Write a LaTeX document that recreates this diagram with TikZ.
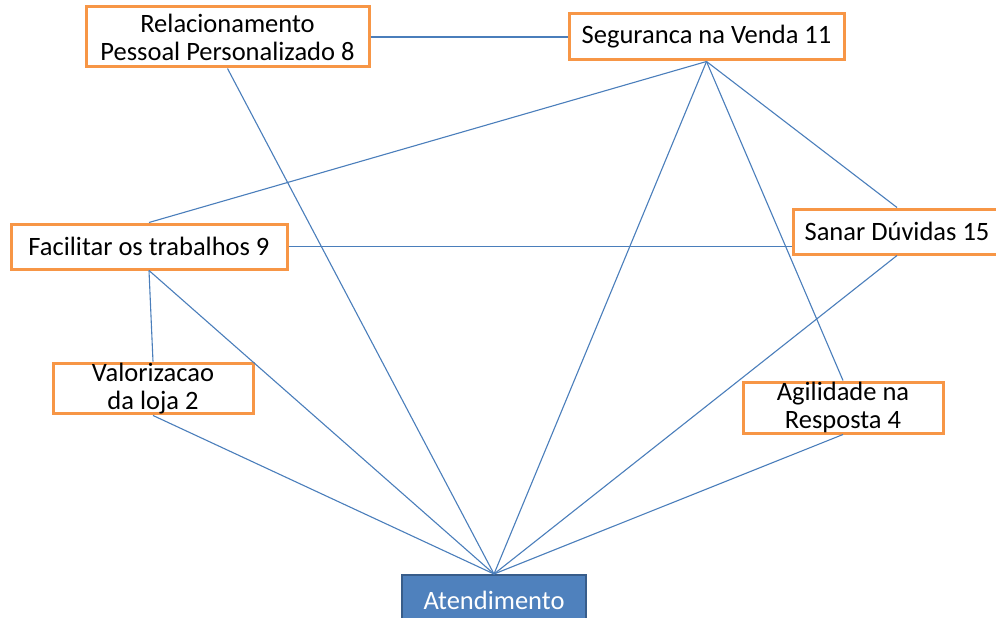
\documentclass[tikz,border=0pt]{standalone}
\usepackage{fontspec}
\setmainfont{Carlito}
\definecolor{boxorange}{HTML}{F79646}
\definecolor{linkblue}{HTML}{4A7EBB}
\definecolor{atefill}{HTML}{4F81BD}
\definecolor{ateborder}{HTML}{385D8A}
\begin{document}
\begin{tikzpicture}[x=1pt,y=-1pt,
    box/.style={draw=boxorange, line width=3pt, fill=white, inner sep=0pt,
        align=center, font=\fontsize{26.5}{28}\selectfont},
    link/.style={draw=linkblue, line width=1.1pt}]

\clip (0,0) rectangle (996,618);
\fill[white] (0,0) rectangle (996,618);

% Draw the boxes
\node[box, minimum width=283pt, minimum height=60pt] (rel) at (227.5,37) {Relacionamento\\Pessoal Personalizado 8};
\node[box, minimum width=275pt, minimum height=46pt] (seg) at (706.5,37) {Seguranca na Venda 11};
\node[box, minimum width=276pt, minimum height=45pt] (fac) at (149,246.5) {Facilitar os trabalhos 9};
\node[box, minimum width=208pt, minimum height=45pt] (san) at (897,231.5) {Sanar Dúvidas 15};
\node[box, minimum width=200pt, minimum height=45pt] (val) at (153,388.5) {Valorizacao\\da loja 2};
\node[box, minimum width=200pt, minimum height=51pt] (agi) at (843,407.5) {Agilidade na\\Resposta 4};
\node[box, draw=ateborder, line width=2pt, fill=atefill, text=white, minimum width=184pt, minimum height=50pt] (ate) at (494,600) {Atendimento};

% Draw the connections
\draw[link] (rel.east) -- (seg.west);
\draw[link] (fac.east) -- (fac.east -| san.west);
\draw[link] (fac.south) -- (val.north);
\foreach \n in {fac,agi,san} {
    \draw[link] (seg.south) -- (\n.north);
}
\foreach \n in {rel,seg,fac,val,san,agi} {
    \draw[link] (\n.south) -- (ate.north);
}

\end{tikzpicture}
\end{document}
